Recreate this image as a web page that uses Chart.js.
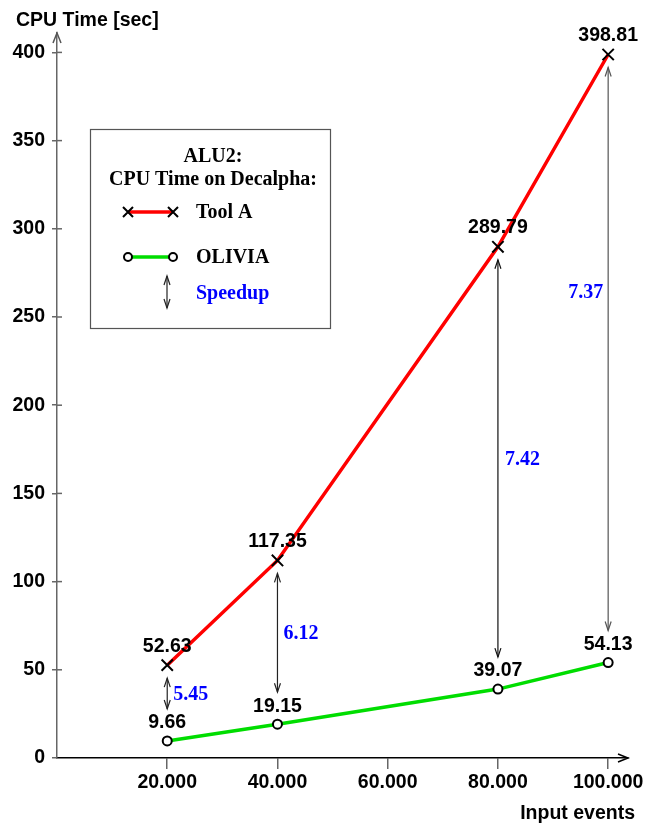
<!DOCTYPE html>
<html><head><meta charset="utf-8">
<script src="https://cdn.jsdelivr.net/npm/chart.js@4"></script>
<style>html,body{margin:0;padding:0;background:#fff}canvas{display:block}</style>
</head><body>
<canvas id="c" width="655" height="826"></canvas>
<script>
// ---- data ----
const inputEvents = [20000, 40000, 80000, 100000];
const toolA = [52.63, 112.0, 289.79, 398.81];
const toolALabels = ['52.63', '117.35', '289.79', '398.81'];
const olivia = [9.66, 19.15, 39.07, 54.13];
const oliviaLabels = ['9.66', '19.15', '39.07', '54.13'];
const speedup = ['5.45', '6.12', '7.42', '7.37'];
const xTickValues = [20000, 40000, 60000, 80000, 100000];
const xTickLabels = ['20.000', '40.000', '60.000', '80.000', '100.000'];
const yTickValues = [0, 50, 100, 150, 200, 250, 300, 350, 400];
const yTickLabels = ['0', '50', '100', '150', '200', '250', '300', '350', '400'];
const legendTitle = ['ALU2:', 'CPU Time on Decalpha:'];
const seriesNames = ['Tool A', 'OLIVIA'];
const speedupName = 'Speedup';
const yTitle = 'CPU Time [sec]';
const xTitle = 'Input events';

const SANS = '"Liberation Sans", Arial, Helvetica, sans-serif';
const SERIF = '"Liberation Serif", "Times New Roman", Times, serif';
const RED = '#ff0000', GREEN = '#00dd00', BLUE = '#0000ff';

function arrowHead(ctx, x, y, dx, dy, len, half) {
  const px = -dy, py = dx;
  ctx.beginPath();
  ctx.moveTo(x - dx * len + px * half, y - dy * len + py * half);
  ctx.lineTo(x, y);
  ctx.lineTo(x - dx * len - px * half, y - dy * len - py * half);
  ctx.stroke();
}
function dblArrow(ctx, x, y1, y2, color) {
  ctx.save();
  ctx.strokeStyle = color; ctx.lineWidth = 1.2;
  ctx.beginPath(); ctx.moveTo(x, y1); ctx.lineTo(x, y2); ctx.stroke();
  arrowHead(ctx, x, y1, 0, -1, 9, 3);
  arrowHead(ctx, x, y2, 0, 1, 9, 3);
  ctx.restore();
}
function crossMark(ctx, x, y, r) {
  ctx.save(); ctx.strokeStyle = '#000'; ctx.lineWidth = 2;
  ctx.beginPath();
  ctx.moveTo(x - r, y - r); ctx.lineTo(x + r, y + r);
  ctx.moveTo(x - r, y + r); ctx.lineTo(x + r, y - r);
  ctx.stroke(); ctx.restore();
}
function circleMark(ctx, x, y, r) {
  ctx.save(); ctx.strokeStyle = '#000'; ctx.lineWidth = 2; ctx.fillStyle = '#fff';
  ctx.beginPath(); ctx.arc(x, y, r, 0, Math.PI * 2); ctx.fill(); ctx.stroke(); ctx.restore();
}

const overlay = {
  id: 'overlay',
  beforeDraw(chart) {
    const ctx = chart.ctx;
    ctx.save(); ctx.fillStyle = '#fff'; ctx.fillRect(0, 0, chart.width, chart.height); ctx.restore();
  },
  afterDraw(chart) {
    const ctx = chart.ctx;
    const xs = chart.scales.x, ys = chart.scales.y;
    const a = chart.chartArea;
    ctx.save();
    // axis arrows
    ctx.strokeStyle = '#555'; ctx.lineWidth = 1.5;
    arrowHead(ctx, a.left, a.top, 0, -1, 10, 4);
    ctx.strokeStyle = '#000';
    arrowHead(ctx, a.right, a.bottom, 1, 0, 10, 4);
    // y ticks cross axis slightly
    ctx.strokeStyle = '#666'; ctx.lineWidth = 1.5;
    yTickValues.forEach(v => {
      if (v === 0) return;
      const y = ys.getPixelForValue(v);
      ctx.beginPath(); ctx.moveTo(a.left, y); ctx.lineTo(a.left + 5, y); ctx.stroke();
    });
    // axis titles
    ctx.fillStyle = '#000';
    ctx.font = 'bold 19.5px ' + SANS;
    ctx.textAlign = 'left'; ctx.textBaseline = 'alphabetic';
    ctx.fillText(yTitle, 16, 26);
    ctx.textAlign = 'right';
    ctx.fillText(xTitle, 635, 819);

    // speedup arrows + labels
    const place = [
      { dx: 6, dy: 0, align: 'left' },
      { dx: 6, dy: 0, align: 'left' },
      { dx: 7, dy: 0, align: 'left' },
      { dx: -5, dy: -57, align: 'right' }
    ];
    const arrowColors = ['#222', '#222', '#111', '#555'];
    inputEvents.forEach((xv, i) => {
      const x = xs.getPixelForValue(xv);
      const yTop = ys.getPixelForValue(toolA[i]) + 13;
      const yBot = ys.getPixelForValue(olivia[i]) - 32;
      dblArrow(ctx, x, yTop, yBot, arrowColors[i]);
      const p = place[i];
      ctx.font = 'bold 20px ' + SERIF;
      ctx.fillStyle = BLUE;
      ctx.textAlign = p.align; ctx.textBaseline = 'middle';
      ctx.fillText(speedup[i], x + p.dx, (yTop + yBot) / 2 + p.dy + 1);
    });

    // data value labels
    ctx.font = 'bold 19.5px ' + SANS;
    ctx.fillStyle = '#000';
    ctx.textAlign = 'center'; ctx.textBaseline = 'middle';
    inputEvents.forEach((xv, i) => {
      const x = xs.getPixelForValue(xv);
      ctx.fillText(toolALabels[i], x, ys.getPixelForValue(toolA[i]) - 19);
      ctx.fillText(oliviaLabels[i], x, ys.getPixelForValue(olivia[i]) - 18);
    });

    // legend box
    const L = { x: 90, y: 129, w: 240, h: 199 };
    ctx.strokeStyle = '#555'; ctx.lineWidth = 1.2;
    ctx.strokeRect(L.x + 0.5, L.y + 0.5, L.w, L.h);
    ctx.fillStyle = '#000';
    ctx.font = 'bold 20px ' + SERIF;
    ctx.textAlign = 'center'; ctx.textBaseline = 'middle';
    ctx.fillText(legendTitle[0], 213, 157);
    ctx.fillText(legendTitle[1], 213, 180);
    ctx.strokeStyle = RED; ctx.lineWidth = 3.5;
    ctx.beginPath(); ctx.moveTo(128, 212); ctx.lineTo(173, 212); ctx.stroke();
    crossMark(ctx, 128, 212, 5); crossMark(ctx, 173, 212, 5);
    ctx.strokeStyle = GREEN; ctx.lineWidth = 3.5;
    ctx.beginPath(); ctx.moveTo(128, 257); ctx.lineTo(173, 257); ctx.stroke();
    circleMark(ctx, 128, 257, 4); circleMark(ctx, 173, 257, 4);
    dblArrow(ctx, 167, 276, 308, '#222');
    ctx.textAlign = 'left';
    ctx.fillStyle = '#000';
    ctx.fillText(seriesNames[0], 196, 213);
    ctx.fillText(seriesNames[1], 196, 258);
    ctx.fillStyle = BLUE;
    ctx.fillText(speedupName, 196, 294);
    ctx.restore();
  }
};

const ctx = document.getElementById('c').getContext('2d');
new Chart(ctx, {
  type: 'line',
  data: {
    datasets: [
      {
        label: seriesNames[0],
        data: inputEvents.map((x, i) => ({ x, y: toolA[i] })),
        borderColor: RED, borderWidth: 3.5, tension: 0,
        pointStyle: 'crossRot', pointRadius: 8, pointBorderColor: '#000',
        pointBorderWidth: 2, pointBackgroundColor: '#000', clip: false
      },
      {
        label: seriesNames[1],
        data: inputEvents.map((x, i) => ({ x, y: olivia[i] })),
        borderColor: GREEN, borderWidth: 3.5, tension: 0,
        pointStyle: 'circle', pointRadius: 4.5, pointBorderColor: '#000',
        pointBorderWidth: 2, pointBackgroundColor: '#fff', clip: false
      }
    ]
  },
  options: {
    responsive: false,
    animation: false,
    events: [],
    layout: { padding: { top: 33, right: 27, left: 0, bottom: 0 } },
    plugins: { legend: { display: false }, tooltip: { enabled: false }, title: { display: false } },
    scales: {
      x: {
        type: 'linear', min: 0, max: 103600,
        afterBuildTicks: s => { s.ticks = xTickValues.map(v => ({ value: v })); },
        afterFit: s => { s.height = 68; },
        ticks: {
          callback: (v, i) => xTickLabels[i],
          font: { family: SANS, weight: 'bold', size: 19.5 },
          color: '#000', padding: 2, maxRotation: 0, autoSkip: false
        },
        grid: { display: true, drawOnChartArea: false, drawTicks: true, tickLength: 11, color: '#666', lineWidth: 1.5 },
        border: { display: true, color: '#000', width: 1.5 }
      },
      y: {
        type: 'linear', min: 0, max: 411,
        afterBuildTicks: s => { s.ticks = yTickValues.map(v => ({ value: v })); },
        afterFit: s => { s.width = 57; },
        ticks: {
          callback: (v, i) => yTickLabels[i],
          font: { family: SANS, weight: 'bold', size: 19.5 },
          color: '#000', padding: 7, autoSkip: false
        },
        grid: { display: true, drawOnChartArea: false, drawTicks: true, tickLength: 5, color: '#666', lineWidth: 1.5 },
        border: { display: true, color: '#666', width: 1.5 }
      }
    }
  },
  plugins: [overlay]
});
</script>
</body></html>
